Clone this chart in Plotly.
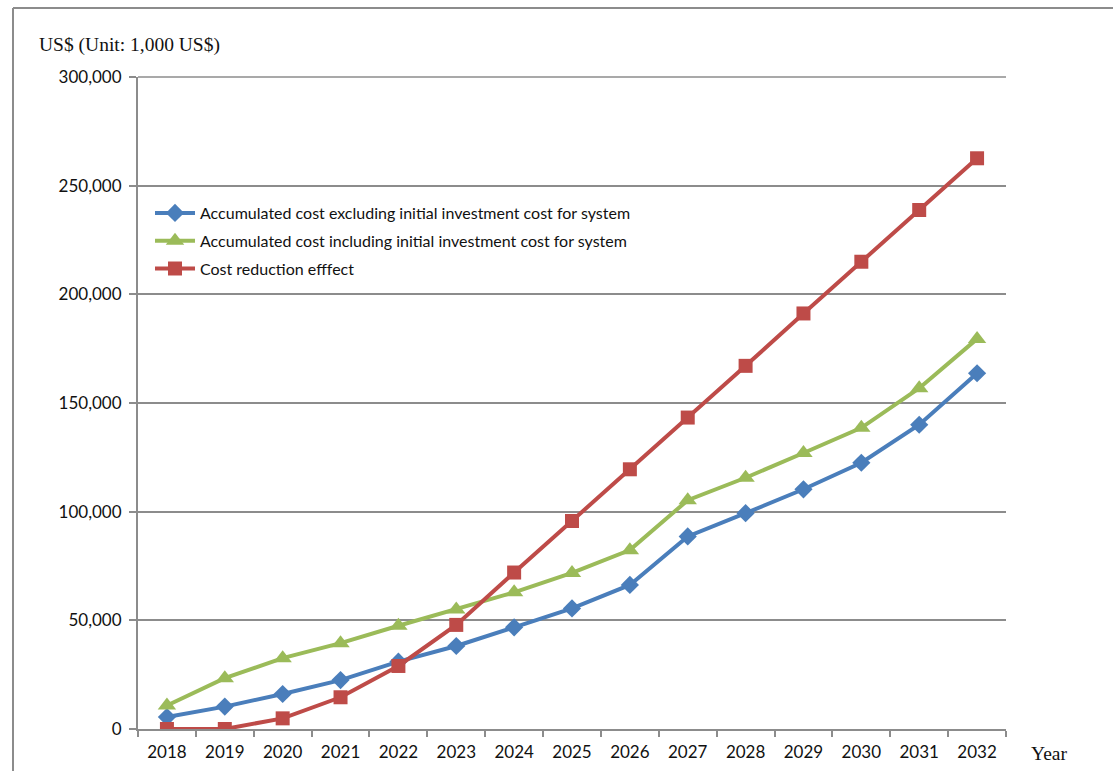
import plotly.graph_objects as go

years = ["2018", "2019", "2020", "2021", "2022", "2023", "2024", "2025",
         "2026", "2027", "2028", "2029", "2030", "2031", "2032"]

cost_excluding = [5500, 10300, 16100, 22500, 31000, 38200, 46800, 55500,
                  66300, 88600, 99300, 110300, 122500, 140000, 163700]
cost_including = [10800, 23400, 32600, 39500, 47500, 55000, 62900, 71800,
                  82300, 105300, 115600, 127000, 138600, 156800, 179500]
cost_reduction = [0, 0, 4900, 14600, 29000, 47900, 72000, 95700,
                  119500, 143300, 167100, 191200, 215000, 238800, 262600]

series_names = [
    "Accumulated cost excluding initial investment cost for system",
    "Accumulated cost including initial investment cost for system",
    "Cost reduction efffect",
]

BLUE = "#4A7EBB"
GREEN = "#9BBB59"
RED = "#BE4B48"
AXIS_GRAY = "#8C8C8C"

fig = go.Figure()
fig.add_trace(go.Scatter(
    x=years, y=cost_excluding, name=series_names[0], mode="lines+markers",
    legendgroup="a",
    line=dict(color=BLUE, width=4),
    marker=dict(symbol="diamond", size=14, color=BLUE),
))
fig.add_trace(go.Scatter(
    x=years, y=cost_including, name=series_names[1], mode="lines+markers",
    legendgroup="b",
    line=dict(color=GREEN, width=4),
    marker=dict(symbol="triangle-up", size=16, color=GREEN),
))
fig.add_trace(go.Scatter(
    x=years, y=cost_reduction, name=series_names[2], mode="lines+markers",
    legendgroup="c",
    line=dict(color=RED, width=4),
    marker=dict(symbol="square", size=14, color=RED),
))

# plot area in pixels: x 138..1006, y 77..729
L, R, T, B = 138, 1006, 77, 729
W, H = R - L, B - T


def px_x(p):
    return (p - L) / W


def px_y(p):
    return (B - p) / H


fig.update_layout(
    width=1113, height=771,
    margin=dict(l=L, r=1113 - R, t=T, b=771 - B, autoexpand=False),
    paper_bgcolor="white", plot_bgcolor="white",
    font=dict(family="Lato", size=17, color="#222222"),
    showlegend=True,
    legend=dict(
        x=px_x(150), y=px_y(196), xanchor="left", yanchor="top",
        bgcolor="rgba(0,0,0,0)", font=dict(family="Lato", size=16, color="#111111"),
        tracegroupgap=4, itemwidth=40,
    ),
    xaxis=dict(
        type="category", tickson="boundaries", ticks="outside", ticklen=6,
        tickwidth=2, tickcolor=AXIS_GRAY, showline=True, linecolor=AXIS_GRAY,
        linewidth=2, showgrid=False, range=[-0.5, 14.5], ticklabelstandoff=7,
        automargin=False,
        tickfont=dict(family="Lato", size=17, color="#111111"),
    ),
    yaxis=dict(
        range=[0, 300000], dtick=50000, tickformat=",", ticks="outside",
        ticklen=7, tickwidth=2, tickcolor=AXIS_GRAY, showline=True,
        linecolor=AXIS_GRAY, linewidth=2, showgrid=True, gridcolor=AXIS_GRAY,
        gridwidth=1.5, zeroline=False, ticklabelstandoff=4, automargin=False,
        tickfont=dict(family="Lato", size=17, color="#111111"),
    ),
    shapes=[
        # outer frame (top and left edges)
        dict(type="line", xref="paper", yref="paper",
             x0=px_x(13), x1=px_x(1113), y0=px_y(8), y1=px_y(8),
             line=dict(color=AXIS_GRAY, width=2)),
        dict(type="line", xref="paper", yref="paper",
             x0=px_x(13), x1=px_x(13), y0=px_y(8), y1=px_y(771),
             line=dict(color=AXIS_GRAY, width=2)),
        # top gridline
        dict(type="line", xref="paper", yref="paper",
             x0=0, x1=1, y0=1, y1=1, line=dict(color=AXIS_GRAY, width=1.5)),
    ],
    annotations=[
        dict(text="US$ (Unit: 1,000 US$)", xref="paper", yref="paper",
             x=px_x(37), y=px_y(45), xanchor="left", yanchor="middle",
             showarrow=False,
             font=dict(family="Liberation Serif", size=19.5, color="#111111")),
        dict(text="Year", xref="paper", yref="paper",
             x=px_x(1029), y=px_y(753), xanchor="left", yanchor="middle",
             showarrow=False,
             font=dict(family="Liberation Serif", size=19.5, color="#111111")),
    ],
)

fig.write_html("out.html")
